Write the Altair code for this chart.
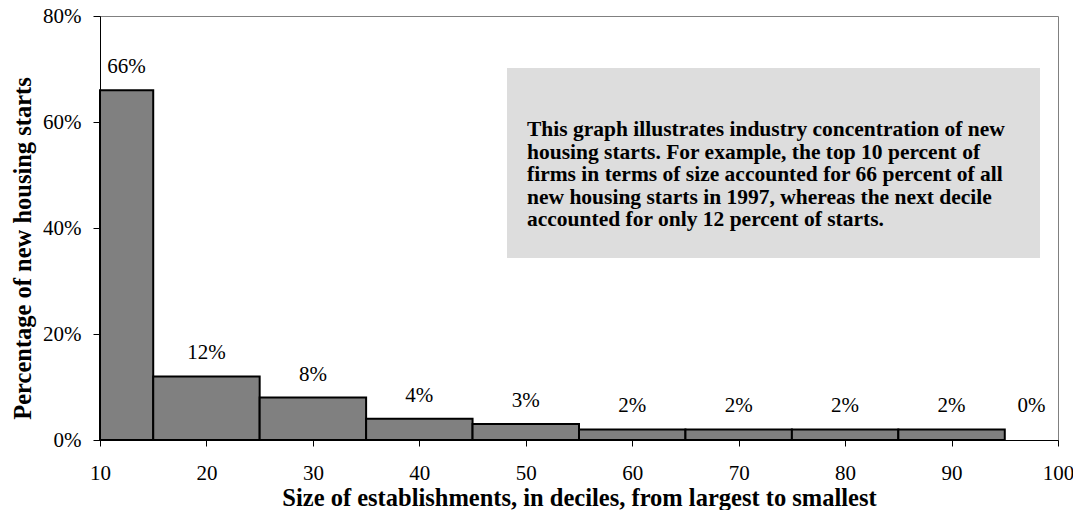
import altair as alt
import pandas as pd

# --- data ---
bin_start = [10, 15, 25, 35, 45, 55, 65, 75, 85, 95]
bin_end = [15, 25, 35, 45, 55, 65, 75, 85, 95, 100]
share = [66, 12, 8, 4, 3, 2, 2, 2, 2, 0]
share_label = ["66%", "12%", "8%", "4%", "3%", "2%", "2%", "2%", "2%", "0%"]
x_ticks = [10, 20, 30, 40, 50, 60, 70, 80, 90, 100]
y_ticks = [0, 20, 40, 60, 80]
note_lines = [
    "This graph illustrates industry concentration of new",
    "housing starts. For example, the top 10 percent of",
    "firms in terms of size accounted for 66 percent of all",
    "new housing starts in 1997, whereas the next decile",
    "accounted for only 12 percent of starts.",
]

df = pd.DataFrame({"start": bin_start, "end": bin_end, "share": share, "label": share_label})

FONT = "Liberation Serif"
W, H = 958, 424

base = alt.Chart(df)

bars = base.transform_filter("datum.share > 0").transform_calculate(zero="0").mark_rect(
    fill="#808080", stroke="black", strokeWidth=2
).encode(
    x=alt.X(
        "start:Q",
        scale=alt.Scale(domain=[10, 100], nice=False, zero=False),
        axis=alt.Axis(
            values=x_ticks, title="Size of establishments, in deciles, from largest to smallest",
            tickSize=6, labelPadding=16, labelFlush=False, labelOverlap=False,
            titleX=W / 2, titleY=65, titleBaseline="alphabetic", titleAlign="center",
        ),
    ),
    x2="end:Q",
    y=alt.Y(
        "share:Q",
        scale=alt.Scale(domain=[0, 80], nice=False),
        axis=alt.Axis(
            values=y_ticks, labelExpr="datum.value + '%'", title="Percentage of new housing starts",
            tickSize=7, labelPadding=12, labelFlush=False, labelOverlap=False,
            titleX=-70, titleY=232, titleBaseline="alphabetic", titleAlign="center", titleAngle=-90,
        ),
    ),
    y2="zero:Q",
)

labels = base.transform_calculate(
    mid="(datum.start + datum.end) / 2", ly="max(datum.share, 2)"
).mark_text(dy=-23, font=FONT, fontSize=21, color="black").encode(
    x="mid:Q", y="ly:Q", text="label:N"
)

dummy = alt.Chart(pd.DataFrame({"a": [0]}))
box = dummy.mark_rect(color="#dddddd").encode(
    x=alt.value(407), x2=alt.value(940), y=alt.value(52), y2=alt.value(242)
)
note = dummy.mark_text(
    text=note_lines, align="left", baseline="top", lineHeight=22.5,
    font=FONT, fontSize=21.5, fontWeight="bold", color="black",
).encode(x=alt.value(427), y=alt.value(103))

chart = alt.layer(box, bars, labels, note).properties(
    width=W, height=H,
    autosize=alt.AutoSizeParams(type="none"),
    padding={"left": 92, "top": 8, "right": 15, "bottom": 70},
).configure_view(
    stroke="#808080", strokeWidth=1
).configure_axis(
    grid=False, domainColor="black", domainWidth=1, tickColor="black",
    labelFont=FONT, labelFontSize=21, labelColor="black",
    titleFont=FONT, titleFontSize=24.5, titleFontWeight="bold", titleColor="black",
)

chart.save("out.html", embed_options={"renderer": "svg", "actions": False})
